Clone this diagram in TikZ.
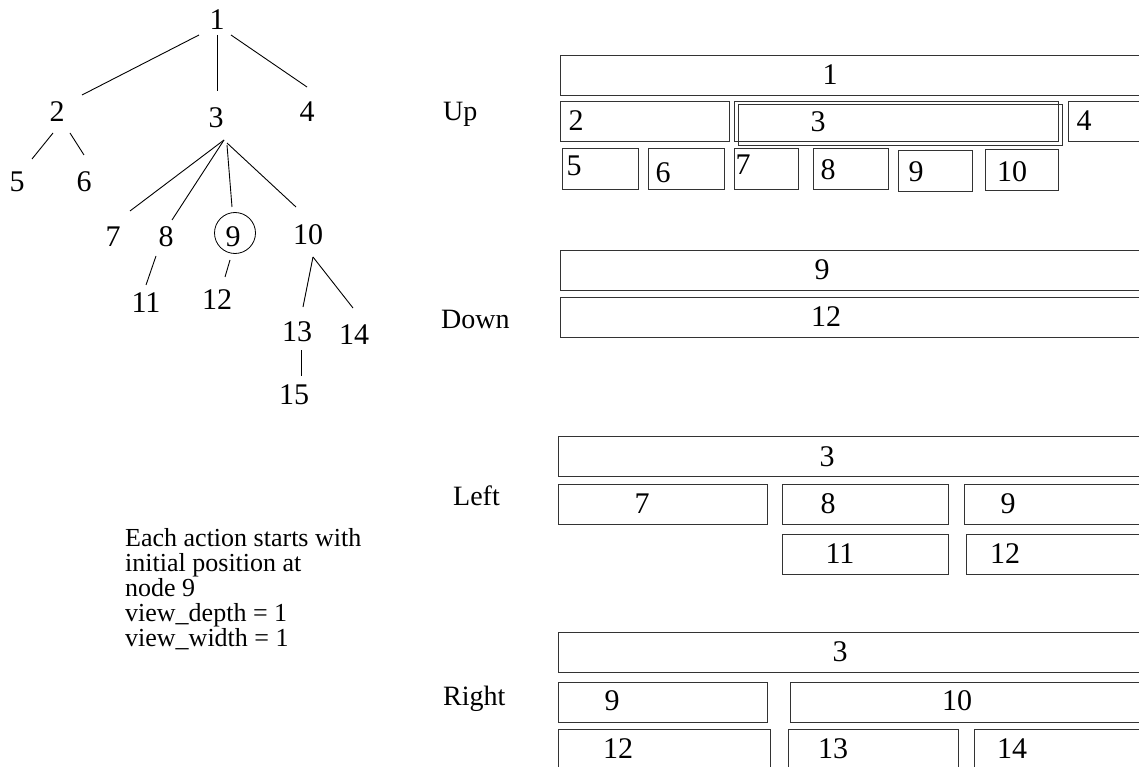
\documentclass[tikz,border=0pt]{standalone}
\usepackage{fontspec}
\setmainfont{Liberation Serif}
\begin{document}
\begin{tikzpicture}[x=1pt,y=-1pt,
  tn/.style={inner sep=0pt, font=\fontsize{30}{36}\selectfont},
  edge/.style={line width=0.9pt},
  bx/.style={line width=0.9pt, draw=black!80},
  bt/.style={font=\fontsize{30}{36}\selectfont, inner sep=0pt},
  lab/.style={font=\fontsize{28}{34}\selectfont, anchor=base west, inner sep=0pt},
  txt/.style={font=\fontsize{26}{30}\selectfont, anchor=base west, inner sep=0pt}]
\useasboundingbox (0,0) rectangle (1139,767);
\clip (0,0) rectangle (1139,767);

% ---------- tree ----------
\node[tn] (t1) at (217,20) {1};
\node[tn] (t2) at (57,112) {2};
\node[tn] (t3) at (216,118) {3};
\node[tn] (t4) at (307,112) {4};
\node[tn] (t5) at (17,182) {5};
\node[tn] (t6) at (84,182) {6};
\node[tn] (t7) at (113,237) {7};
\node[tn] (t8) at (166,237) {8};
\node[tn] (t9) at (233,237) {9};
\node[tn] (t10) at (308,235) {10};
\node[tn] (t11) at (146,303) {11};
\node[tn] (t12) at (217,300) {12};
\node[tn] (t13) at (297,332) {13};
\node[tn] (t14) at (354,335) {14};
\node[tn] (t15) at (294,395) {15};
\draw[line width=0.8pt] ([shift={(2,-4)}]t9.center) circle (20.5);

\draw[edge] ([shift={(-18,15)}]t1.center) -- ([shift={(25,-17)}]t2.center);
\draw[edge] ([shift={(0,15)}]t1.center) -- ([shift={(1,-27)}]t3.center);
\draw[edge] ([shift={(14,15)}]t1.center) -- ([shift={(0,-25)}]t4.center);
\draw[edge] ([shift={(-4,21)}]t2.center) -- ([shift={(15,-23)}]t5.center);
\draw[edge] ([shift={(13,21)}]t2.center) -- ([shift={(0,-27)}]t6.center);
\draw[edge] ([shift={(8,22)}]t3.center) -- ([shift={(17,-26)}]t7.center);
\draw[edge] ([shift={(8,22)}]t3.center) -- ([shift={(6,-17)}]t8.center);
\draw[edge] ([shift={(11,27)}]t3.center) -- ([shift={(-1,-30)}]t9.center);
\draw[edge] ([shift={(11,25)}]t3.center) -- ([shift={(-12,-28)}]t10.center);
\draw[edge] ([shift={(-10,19)}]t8.center) -- ([shift={(0,-18)}]t11.center);
\draw[edge] ([shift={(-3,23)}]t9.center) -- ([shift={(8,-23)}]t12.center);
\draw[edge] ([shift={(5,22)}]t10.center) -- ([shift={(6,-25)}]t13.center);
\draw[edge] ([shift={(5,22)}]t10.center) -- ([shift={(-1,-27)}]t14.center);
\draw[edge] ([shift={(4,18)}]t13.center) -- ([shift={(7,-19)}]t15.center);

% ---------- note ----------
\node[txt] (n1) at (125,546) {Each action starts with};
\node[txt] (n2) at (125,571) {initial position at};
\node[txt] (n3) at (125,596) {node 9};
\node[txt] (n4) at (125,621) {view\_depth = 1};
\node[txt] (n5) at (125,646) {view\_width = 1};

% ---------- labels ----------
\node[lab] (lup) at (443,121) {Up};
\node[lab] (ldown) at (441,328) {Down};
\node[lab] (lleft) at (453,505) {Left};
\node[lab] (lright) at (443,705) {Right};

% ---------- Up ----------
\draw[bx] (560,55) rectangle (1150,95);
\node[bt] (u1) at (830,75) {1};
\draw[bx] (560,101) rectangle (729,141);
\node[bt] (u2) at (576,121) {2};
\draw[bx] (734,101) rectangle (1058,141);
\draw[bx] (738,104) rectangle (1062,145);
\node[bt] (u3) at (818,122) {3};
\draw[bx] (1068,101) rectangle (1150,141);
\node[bt] (u4) at (1084,121) {4};
\draw[bx] (562,148) rectangle (638,189);
\node[bt] (u5) at (574,166) {5};
\draw[bx] (648,148) rectangle (724,189);
\node[bt] (u6) at (663,173) {6};
\draw[bx] (734,148) rectangle (798,189);
\node[bt] (u7) at (743,165) {7};
\draw[bx] (813,148) rectangle (888,189);
\node[bt] (u8) at (828,170) {8};
\draw[bx] (898,150) rectangle (972,191);
\node[bt] (u9) at (916,172) {9};
\draw[bx] (985,149) rectangle (1058,190);
\node[bt] (u10) at (1012,172) {10};

% ---------- Down ----------
\draw[bx] (560,250) rectangle (1150,290);
\node[bt] (d9) at (822,270) {9};
\draw[bx] (560,297) rectangle (1150,337);
\node[bt] (d12) at (826,317) {12};

% ---------- Left ----------
\draw[bx] (558,436) rectangle (1150,476);
\node[bt] (l3) at (827,457) {3};
\draw[bx] (558,484) rectangle (767,524);
\node[bt] (l7) at (642,504) {7};
\draw[bx] (782,484) rectangle (948,524);
\node[bt] (l8) at (828,504) {8};
\draw[bx] (964,484) rectangle (1150,524);
\node[bt] (l9) at (1008,504) {9};
\draw[bx] (782,534) rectangle (948,574);
\node[bt] (l11) at (840,554) {11};
\draw[bx] (966,534) rectangle (1150,574);
\node[bt] (l12) at (1005,554) {12};

% ---------- Right ----------
\draw[bx] (558,632) rectangle (1150,672);
\node[bt] (r3) at (840,652) {3};
\draw[bx] (558,682) rectangle (767,722);
\node[bt] (r9) at (612,701) {9};
\draw[bx] (790,682) rectangle (1150,722);
\node[bt] (r10) at (957,701) {10};
\draw[bx] (558,729) rectangle (770,780);
\node[bt] (r12) at (618,749) {12};
\draw[bx] (788,729) rectangle (958,780);
\node[bt] (r13) at (833,749) {13};
\draw[bx] (974,729) rectangle (1150,780);
\node[bt] (r14) at (1012,749) {14};
\end{tikzpicture}
\end{document}
